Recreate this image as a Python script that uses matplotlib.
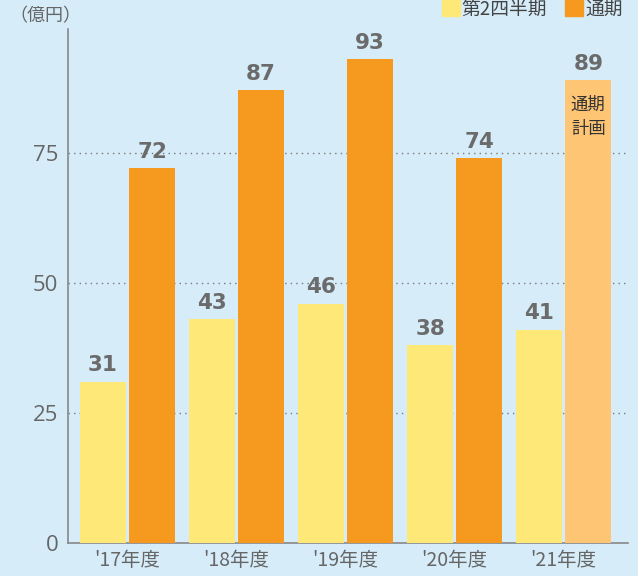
import numpy as np
from matplotlib import pyplot as plt
from matplotlib.patches import Rectangle

plt.rcParams['font.family'] = ['Noto Sans CJK JP', 'DejaVu Sans']

years = ["'17年度", "'18年度", "'19年度", "'20年度", "'21年度"]
q2 = [31, 43, 46, 38, 41]
full = [72, 87, 93, 74, 89]
yticks = [0, 25, 50, 75]

bg = '#d6edf9'
yellow = '#fee878'
orange = '#f69a1f'
plan = '#fdc574'
grey = '#666666'

fig = plt.figure(figsize=(6.38, 5.76), dpi=100, facecolor=bg)
ax = fig.add_axes([0.1066, 0.0573, 0.8774, 0.8924], facecolor=bg)

x = np.arange(len(years))
w = 0.42
off = 0.225
ax.bar(x - off, q2, w, color=yellow, zorder=3)
cols = [orange] * (len(years) - 1) + [plan]
ax.bar(x + off, full, w, color=cols, zorder=3)

for xi, v in zip(list(x - off) + list(x + off), q2 + full):
    ax.text(xi, v + 1.2, str(v), ha='center', va='bottom', fontsize=15.5,
            fontweight='bold', color='#6b6b6b', family='DejaVu Sans')

ax.text(x[-1] + off, full[-1] - 3, '通期\n計画', ha='center', va='top',
        fontsize=12.5, color='#333333', linespacing=1.45, zorder=4)

ax.set_xlim(-0.546, 4.587)
ax.set_ylim(0, 98.8)
ax.set_yticks(yticks)
ax.set_xticks(x)
ax.set_xticklabels(years)
ax.tick_params(length=0, colors=grey, labelsize=14)
ax.tick_params(axis='y', labelsize=16, pad=7)
ax.tick_params(axis='x', pad=5)
for lab in ax.get_yticklabels():
    lab.set_family('Open Sans')
for t in yticks[1:]:
    ax.axhline(t, color='#777777', lw=1, ls=(0, (1, 3)), zorder=1)

for s in ['top', 'right']:
    ax.spines[s].set_visible(False)
for s in ['left', 'bottom']:
    ax.spines[s].set_color('#888888')
    ax.spines[s].set_linewidth(1.2)

fig.text(0.015, 0.972, '（億円）', fontsize=13, color=grey, va='center')

# legend
fig.patches.append(Rectangle((442 / 638, 1 - 16 / 576), 18 / 638, 17 / 576,
                             transform=fig.transFigure, color=yellow))
fig.text(461 / 638, 1 - 9 / 576, '第2四半期', fontsize=13.5, color='#444444', va='center')
fig.patches.append(Rectangle((565 / 638, 1 - 16 / 576), 18 / 638, 17 / 576,
                             transform=fig.transFigure, color=orange))
fig.text(585 / 638, 1 - 9 / 576, '通期', fontsize=13.5, color='#444444', va='center')

fig.savefig('out.png', dpi=100, facecolor=bg)
